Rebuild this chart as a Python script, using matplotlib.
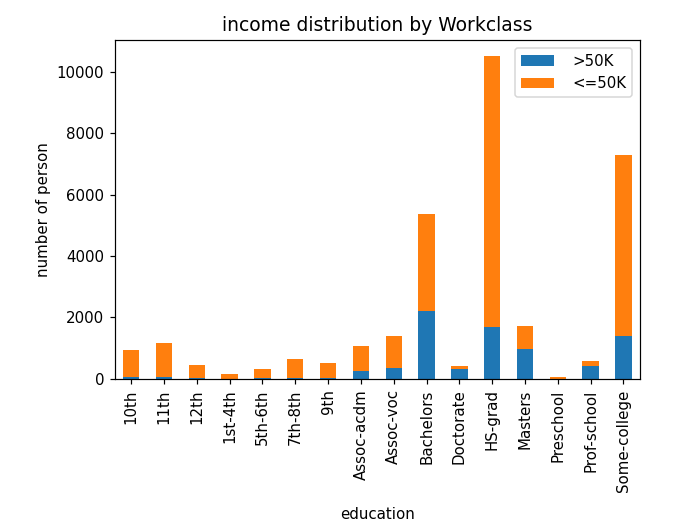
import pandas as pd
import matplotlib.pyplot as plt

education = ["10th", "11th", "12th", "1st-4th", "5th-6th", "7th-8th", "9th",
             "Assoc-acdm", "Assoc-voc", "Bachelors", "Doctorate", "HS-grad",
             "Masters", "Preschool", "Prof-school", "Some-college"]
above_50k = [62, 60, 33, 6, 16, 40, 27, 265, 361, 2221, 306, 1675, 959, 0, 423, 1387]
below_50k = [871, 1115, 400, 162, 317, 606, 487, 802, 1021, 3134, 107, 8826, 764, 51, 153, 5904]

df = pd.DataFrame({">50K": above_50k, "<=50K": below_50k}, index=education)
df.index.name = "education"

dpi = 108
fig = plt.figure(figsize=(675 / dpi, 529 / dpi), dpi=dpi)
ax = fig.add_axes([0.170, 0.284, 0.778, 0.640])
df.plot(kind="bar", stacked=True, ax=ax, color=["#1f77b4", "#ff7f0e"])

ax.set_title("income distribution by Workclass", fontsize=12.5)
ax.set_xlabel("education", labelpad=10)
ax.set_ylabel("number of person")
ax.legend(loc="upper right", handlelength=2.2, handletextpad=1.2)

fig.savefig("out.png", dpi=dpi)
